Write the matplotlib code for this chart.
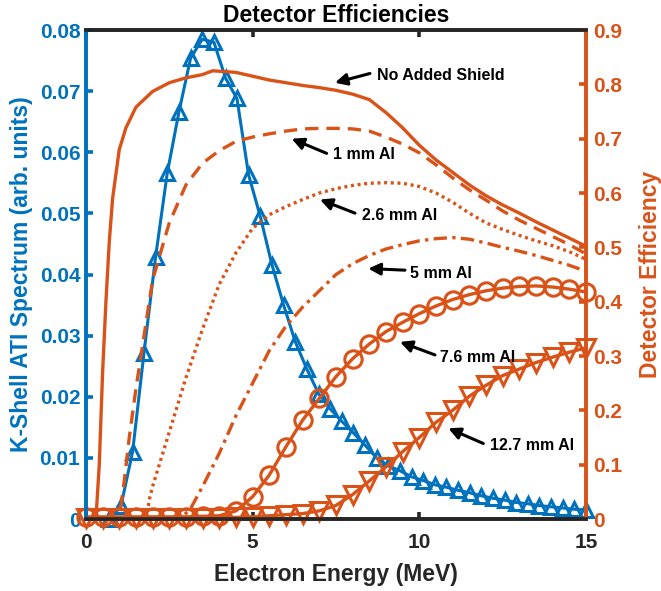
import matplotlib
matplotlib.use("Agg")
import matplotlib.pyplot as plt

# electron energy grid of the ATI spectrum (MeV)
spec_energy = [0.70, 1.05, 1.40, 1.74, 2.09, 2.44, 2.79, 3.14, 3.49,
               3.84, 4.19, 4.53, 4.88, 5.23, 5.58, 5.93, 6.28, 6.63, 6.98, 7.33,
               7.67, 8.02, 8.37, 8.72, 9.07, 9.42, 9.77, 10.12, 10.47, 10.81,
               11.16, 11.51, 11.86, 12.21, 12.56, 12.91, 13.26, 13.60, 13.95,
               14.30, 14.65, 15.00]
spectrum = [0.0, 0.0021, 0.0110, 0.0271, 0.0429, 0.0566, 0.0666, 0.0754,
            0.0785, 0.0780, 0.0721, 0.0688, 0.0563, 0.0495, 0.0416, 0.0350, 0.0290,
            0.0245, 0.0205, 0.0180, 0.0160, 0.0141, 0.0121, 0.0100, 0.0087, 0.0079,
            0.0069, 0.0063, 0.0056, 0.0052, 0.0047, 0.0043, 0.0038, 0.0034, 0.0031,
            0.0027, 0.0025, 0.0022, 0.0020, 0.0018, 0.0016, 0.0015]

# detector efficiency, no added shield
e_none = [0.0, 0.3, 0.4, 0.5, 0.6, 0.7, 0.8, 1.0, 1.2, 1.5, 2.0, 2.5, 3.0, 3.5,
          3.8, 4.5, 5.0, 5.5, 6.0, 6.5, 7.0, 7.5, 8.0, 8.5, 9.0, 9.5, 10.0, 10.5,
          11.0, 11.5, 12.0, 12.5, 13.0, 13.5, 14.0, 14.5, 15.0]
eff_none = [0.0, 0.0, 0.10, 0.27, 0.40, 0.51, 0.59, 0.68, 0.72, 0.758, 0.787, 0.803,
            0.812, 0.818, 0.825, 0.822, 0.815, 0.808, 0.803, 0.798, 0.794, 0.789,
            0.782, 0.772, 0.748, 0.720, 0.688, 0.661, 0.638, 0.615, 0.595, 0.578,
            0.563, 0.547, 0.532, 0.517, 0.502]

# 1 mm Al
e_1mm = [0.0, 0.95, 1.05, 1.15, 1.3, 1.5, 1.75, 2.0, 2.5, 3.0, 3.5, 4.0, 4.5, 5.0,
         5.5, 6.0, 6.5, 7.0, 7.5, 8.0, 8.5, 9.0, 9.5, 10.0, 10.5, 11.0, 11.5,
         12.0, 12.5, 13.0, 13.5, 14.0, 14.5, 15.0]
eff_1mm = [0.0, 0.0, 0.025, 0.07, 0.15, 0.24, 0.34, 0.44, 0.545, 0.615, 0.655,
           0.678, 0.695, 0.703, 0.709, 0.714, 0.718, 0.719, 0.719, 0.718, 0.714,
           0.703, 0.690, 0.674, 0.652, 0.628, 0.606, 0.587, 0.567, 0.550, 0.535,
           0.520, 0.505, 0.488]

# 2.6 mm Al
e_26mm = [0.0, 1.8, 1.92, 2.0, 2.5, 3.0, 3.5, 4.0, 4.5, 5.0, 5.5, 6.0, 6.5, 7.0,
          7.5, 8.0, 8.5, 9.0, 9.5, 10.0, 10.5, 11.0, 11.5, 12.0, 12.5, 13.0,
          13.5, 14.0, 14.5, 15.0]
eff_26mm = [0.0, 0.0, 0.041, 0.06, 0.16, 0.26, 0.35, 0.432, 0.49, 0.535, 0.56,
            0.575, 0.588, 0.600, 0.608, 0.614, 0.618, 0.619, 0.618, 0.612, 0.600,
            0.583, 0.563, 0.545, 0.533, 0.522, 0.512, 0.503, 0.492, 0.478]

# 5 mm Al
e_5mm = [0.0, 2.8, 3.12, 3.5, 4.0, 4.5, 5.0, 5.5, 6.0, 6.5, 7.0, 7.5, 8.0, 8.5,
         9.0, 9.5, 10.0, 10.5, 11.0, 11.5, 12.0, 12.5, 13.0, 13.5, 14.0, 14.5, 15.0]
eff_5mm = [0.0, 0.0, 0.017, 0.06, 0.121, 0.19, 0.25, 0.31, 0.355, 0.39, 0.42, 0.45,
           0.47, 0.485, 0.497, 0.505, 0.512, 0.516, 0.518, 0.515, 0.508, 0.500,
           0.493, 0.485, 0.476, 0.467, 0.456]

# 7.6 mm and 12.7 mm Al share a coarser grid
e_thick = [0.0, 0.5, 1.0, 1.5, 2.0, 2.5, 3.0, 3.5, 4.0, 4.5, 5.0, 5.5, 6.0, 6.5,
           7.0, 7.5, 8.0, 8.5, 9.0, 9.5, 10.0, 10.5, 11.0, 11.5, 12.0, 12.5,
           13.0, 13.5, 14.0, 14.5, 15.0]
eff_76mm = [0.004, 0.004, 0.004, 0.004, 0.004, 0.004, 0.004, 0.005, 0.006, 0.015,
            0.041, 0.081, 0.133, 0.182, 0.222, 0.262, 0.295, 0.322, 0.345, 0.362,
            0.378, 0.392, 0.404, 0.413, 0.420, 0.425, 0.428, 0.429, 0.427, 0.423,
            0.418]
eff_127mm = [0.002, 0.002, 0.002, 0.002, 0.002, 0.002, 0.002, 0.002, 0.002, 0.003,
             0.004, 0.006, 0.008, 0.010, 0.015, 0.025, 0.045, 0.070, 0.096, 0.124,
             0.150, 0.178, 0.200, 0.226, 0.246, 0.264, 0.276, 0.288, 0.298, 0.307,
             0.315]

# annotation labels: (text, arrow head, arrow tail, text anchor) in data units
notes = [
    ("No Added Shield", (7.47, 0.803), (8.52, 0.820), (8.72, 0.816)),
    ("1 mm Al", (6.17, 0.700), (7.22, 0.673), (7.42, 0.670)),
    ("2.6 mm Al", (7.02, 0.588), (8.07, 0.563), (8.27, 0.558)),
    ("5 mm Al", (8.47, 0.461), (9.57, 0.458), (9.72, 0.452)),
    ("7.6 mm Al", (9.42, 0.326), (10.47, 0.302), (10.62, 0.298)),
    ("12.7 mm Al", (10.87, 0.167), (11.92, 0.139), (12.12, 0.136)),
]

blue = "#0072BD"
orange = "#D95319"
dark = "#262626"

plt.rcParams["font.family"] = ["Liberation Sans", "DejaVu Sans"]
plt.rcParams["font.weight"] = "bold"

fig = plt.figure(figsize=(6.61, 5.91), dpi=100)
ax = fig.add_axes([0.130, 0.1218, 0.7565, 0.8274])
ax2 = ax.twinx()

ax.plot(spec_energy, spectrum, color=blue, lw=2.2, marker="^", ms=10.5,
        mfc="none", mew=2.2, clip_on=False)

lw = 2.4
ax2.plot(e_none, eff_none, color=orange, lw=lw, solid_joinstyle="round")
ax2.plot(e_1mm, eff_1mm, color=orange, lw=lw, dashes=(4, 2.4))
ax2.plot(e_26mm, eff_26mm, color=orange, lw=lw, dashes=(0.9, 1.1))
ax2.plot(e_5mm, eff_5mm, color=orange, lw=lw, dashes=(4, 1.6, 1, 1.6))
ax2.plot(e_thick, eff_76mm, color=orange, lw=lw, marker="o", ms=12.5,
         mfc="none", mew=2.2, clip_on=False)
ax2.plot(e_thick, eff_127mm, color=orange, lw=lw, marker="v", ms=12.5,
         mfc="none", mew=2.2, clip_on=False)

for label, head, tail, anchor in notes:
    ax2.annotate("", xy=head, xytext=tail,
                 arrowprops=dict(arrowstyle="-|>,head_length=0.7,head_width=0.35",
                                 color="black", lw=2.2, shrinkA=0, shrinkB=0))
    ax2.text(anchor[0], anchor[1], label, fontsize=11.5, fontweight="bold",
             ha="left", va="center", color="black")

ax.set_xlim(0, 15)
ax.set_ylim(0, 0.08)
ax2.set_ylim(0, 0.9)
ax.set_xticks([0, 5, 10, 15])
ax.set_yticks([0, 0.01, 0.02, 0.03, 0.04, 0.05, 0.06, 0.07, 0.08])
ax.set_yticklabels(["0", "0.01", "0.02", "0.03", "0.04", "0.05", "0.06", "0.07", "0.08"])
ax2.set_yticks([0, 0.1, 0.2, 0.3, 0.4, 0.5, 0.6, 0.7, 0.8, 0.9])
ax2.set_yticklabels(["0", "0.1", "0.2", "0.3", "0.4", "0.5", "0.6", "0.7", "0.8", "0.9"])

spine_w = 2.6
for a in (ax, ax2):
    a.spines["left"].set_color(blue)
    a.spines["right"].set_color(orange)
    a.spines["top"].set_color(dark)
    a.spines["bottom"].set_color(dark)
    for s in a.spines.values():
        s.set_linewidth(spine_w)

ax.tick_params(axis="x", direction="in", length=5, width=spine_w, colors=dark,
               labelsize=15, pad=10, top=True)
ax.tick_params(axis="y", direction="in", length=5, width=spine_w, colors=blue,
               labelsize=15, pad=4, right=False)
ax2.tick_params(axis="y", direction="in", length=5, width=spine_w, colors=orange,
                labelsize=15, pad=5, left=False)

ax.set_xlabel("Electron Energy (MeV)", fontsize=16.5, fontweight="bold", color=dark,
              labelpad=8)
ax.set_ylabel("K-Shell ATI Spectrum (arb. units)", fontsize=16.5, fontweight="bold",
              color=blue, labelpad=5)
ax2.set_ylabel("Detector Efficiency", fontsize=16.5, fontweight="bold", color=orange,
               labelpad=12)
ax.set_title("Detector Efficiencies", fontsize=16.5, fontweight="bold", color="black",
             pad=6)

fig.savefig("out.png", dpi=100)
